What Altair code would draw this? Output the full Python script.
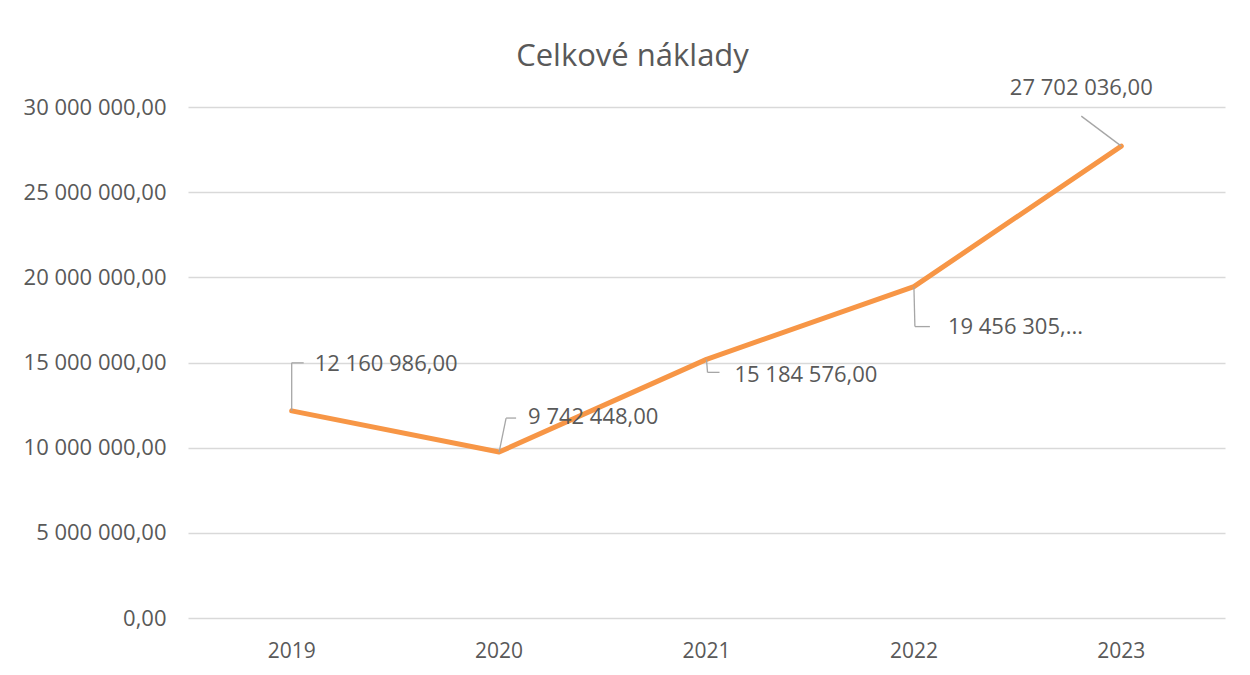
import altair as alt
import pandas as pd

years = ["2019", "2020", "2021", "2022", "2023"]
values = [12160986, 9742448, 15184576, 19456305, 27702036]
labels = ["12 160 986,00", "9 742 448,00", "15 184 576,00", "19 456 305,...", "27 702 036,00"]
y_ticks = [0, 5000000, 10000000, 15000000, 20000000, 25000000, 30000000]

df = pd.DataFrame({"year": years, "value": values, "label": labels})

FONT = "Open Sans"
GRAY = "#595959"
LEADER = "#A6A6A6"
ORANGE = "#F79646"

# label placement styles (pixel offsets relative to each point)
label_style = {
    "2019": dict(dx=23, dy=-47, align="left", leader=[(0, 0, 0, -48), (0, -48, 12, -48)]),
    "2020": dict(dx=29, dy=-35, align="left", leader=[(0, 0, 7, -34), (7, -34, 17, -34)]),
    "2021": dict(dx=28, dy=16, align="left", leader=[(0, 0, 1, 13), (1, 13, 13, 13)]),
    "2022": dict(dx=34, dy=40, align="left", leader=[(0, 0, 1, 40), (1, 40, 16, 40)]),
    "2023": dict(dx=-40, dy=-58, align="center", leader=[(0, 0, -40, -30)]),
}

x = alt.X("year:N", sort=years, title=None,
          scale=alt.Scale(paddingInner=0, paddingOuter=0),
          axis=alt.Axis(labelAngle=0, ticks=False, domain=False, grid=False,
                        labelPadding=22, labelFontSize=21, labelColor=GRAY, labelFont=FONT))
y = alt.Y("value:Q", title=None,
          scale=alt.Scale(domain=[0, 30000000], nice=False),
          axis=alt.Axis(values=y_ticks, ticks=False, domain=False, grid=True,
                        gridColor="#D9D9D9", gridWidth=1.3,
                        labelExpr="replace(replace(format(datum.value, ',.2f'), regexp(',', 'g'), ' '), '.', ',')",
                        labelPadding=22, labelFontSize=22, labelColor=GRAY, labelFont=FONT))

base = alt.Chart(df)
layers = [base.mark_line(color=ORANGE, strokeWidth=5, strokeCap="round", strokeJoin="round").encode(x=x, y=y)]

for yr in years:
    st = label_style[yr]
    sub = base.transform_filter(alt.datum.year == yr)
    for (x1, y1, x2, y2) in st["leader"]:
        layers.append(sub.mark_rule(color=LEADER, strokeWidth=1.3,
                                    xOffset=x1, yOffset=y1, x2Offset=x2, y2Offset=y2)
                      .encode(x=alt.X("year:N", sort=years), x2="year:N",
                              y="value:Q", y2="value:Q"))
    layers.append(sub.mark_text(align=st["align"], baseline="middle", dx=st["dx"], dy=st["dy"],
                                fontSize=22, font=FONT, color=GRAY)
                  .encode(x=alt.X("year:N", sort=years), y="value:Q", text="label:N"))

chart = alt.layer(*layers).properties(
    width=1037, height=511,
    title=alt.TitleParams("Celkové náklady", fontSize=31, font=FONT, fontWeight="normal",
                          color=GRAY, anchor="middle", dx=-74, offset=4),
    autosize=alt.AutoSizeParams(type="none"),
    padding={"left": 180, "top": 99, "right": 17, "bottom": 50},
).configure(background="white").configure_view(stroke=None)

chart.save("out.html", embed_options={"renderer": "svg", "actions": False})
